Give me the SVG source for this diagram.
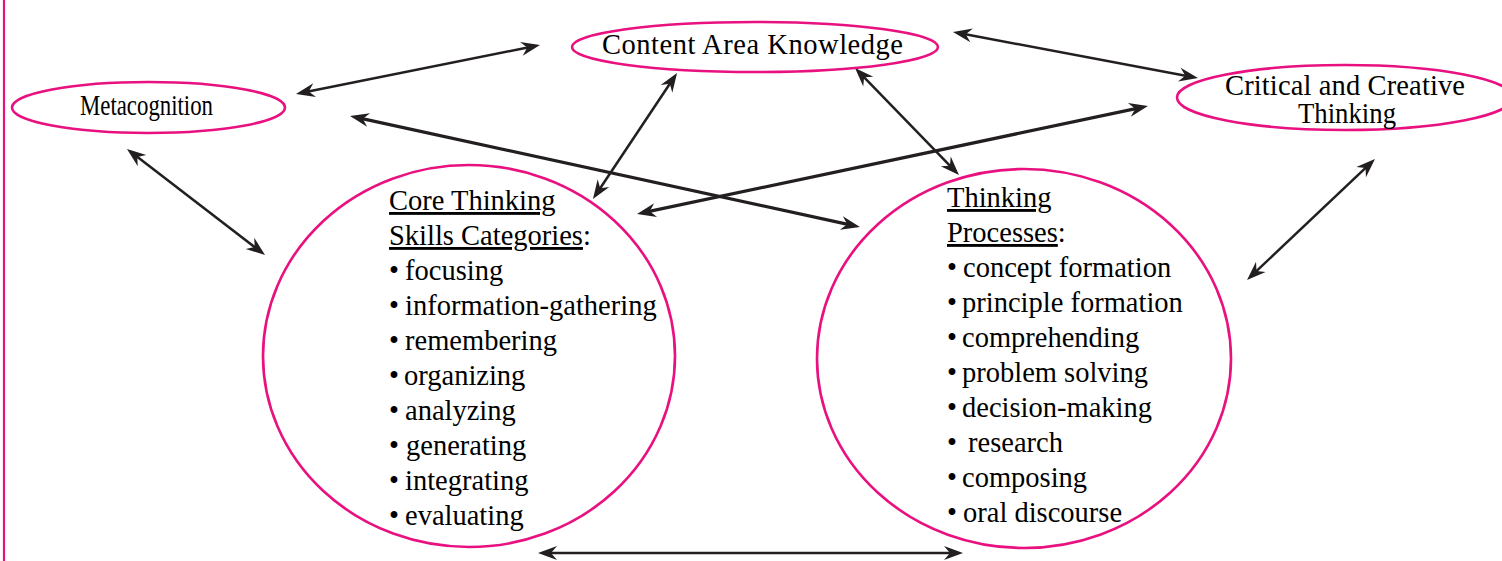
<svg xmlns="http://www.w3.org/2000/svg" width="1502" height="561" viewBox="0 0 1502 561">
<style>
.node{fill:none;stroke:#e8117f;stroke-width:2.6}
.t{font-family:"Liberation Serif","Times New Roman",serif;fill:#000;font-size:28.5px}
.c{stroke:#231f20;stroke-width:2.5;fill:none;marker-start:url(#ah);marker-end:url(#ah)}
.thick{stroke-width:3.2}
.u{text-decoration:underline}
</style>
<defs>
<marker id="ah" markerUnits="userSpaceOnUse" markerWidth="22" markerHeight="16" viewBox="0 -8 20 16" refX="9" refY="0" orient="auto-start-reverse">
<path d="M0,-7 L19,0 L0,7 L6,0 Z" fill="#231f20"/>
</marker>
</defs>
<rect width="1502" height="561" fill="#fff"/>
<line x1="4" y1="0" x2="4" y2="561" stroke="#e8117f" stroke-width="2.2"/>
<g id="connectors">
<line class="c" x1="305.8" y1="92" x2="530.2" y2="47"/>
<line class="c thick" x1="359.8" y1="118.1" x2="850.2" y2="224.9"/>
<line class="c thick" x1="1138.2" y1="108.1" x2="646.8" y2="211.9"/>
<line class="c" x1="962.8" y1="33.8" x2="1188.2" y2="76.2"/>
<line class="c" x1="671.5" y1="81.3" x2="598.5" y2="190.7"/>
<line class="c" x1="862" y1="75.2" x2="952" y2="167.8"/>
<line class="c" x1="134.9" y1="155.1" x2="257.1" y2="248.9"/>
<line class="c" x1="1367.7" y1="165.9" x2="1254.3" y2="273.1"/>
<line class="c" x1="548" y1="553" x2="953" y2="553"/>
</g>
<g id="content-area-knowledge">
<ellipse class="node" cx="755" cy="47" rx="183" ry="25"/>
<text class="t" x="602" y="54" font-size="29" textLength="301" lengthAdjust="spacing">Content Area Knowledge</text>
</g>
<g id="metacognition">
<ellipse class="node" cx="148.5" cy="107.5" rx="136.5" ry="25.5"/>
<text class="t" x="80" y="115" textLength="133" lengthAdjust="spacingAndGlyphs">Metacognition</text>
</g>
<g id="critical-creative-thinking">
<ellipse class="node" cx="1345" cy="97.5" rx="168" ry="32.5"/>
<text class="t" x="1225" y="95" font-size="29" textLength="240" lengthAdjust="spacing">Critical and Creative</text>
<text class="t" x="1298" y="123" font-size="29" textLength="98" lengthAdjust="spacingAndGlyphs">Thinking</text>
</g>
<g id="core-thinking-skills">
<ellipse class="node" cx="469" cy="356" rx="206" ry="191"/>
<text class="t" x="389" y="210"><tspan class="u">Core Thinking</tspan></text>
<text class="t" x="389" y="245"><tspan class="u">Skills Categories</tspan>:</text>
<text class="t" x="389" y="280">•<tspan x="405">focusing</tspan></text>
<text class="t" x="389" y="315">•<tspan x="405">information-gathering</tspan></text>
<text class="t" x="389" y="350">•<tspan x="405">remembering</tspan></text>
<text class="t" x="389" y="385">•<tspan x="404">organizing</tspan></text>
<text class="t" x="389" y="420">•<tspan x="405">analyzing</tspan></text>
<text class="t" x="389" y="455">•<tspan x="406">generating</tspan></text>
<text class="t" x="389" y="490">•<tspan x="405">integrating</tspan></text>
<text class="t" x="389" y="525">•<tspan x="405">evaluating</tspan></text>
</g>
<g id="thinking-processes">
<ellipse class="node" cx="1024" cy="358.5" rx="207" ry="189.5"/>
<text class="t" x="947" y="207"><tspan class="u">Thinking</tspan></text>
<text class="t" x="947" y="242"><tspan class="u">Processes</tspan>:</text>
<text class="t" x="947" y="277">•<tspan x="963">concept formation</tspan></text>
<text class="t" x="947" y="312">•<tspan x="962">principle formation</tspan></text>
<text class="t" x="947" y="347">•<tspan x="962">comprehending</tspan></text>
<text class="t" x="947" y="382">•<tspan x="962">problem solving</tspan></text>
<text class="t" x="947" y="417">•<tspan x="962">decision-making</tspan></text>
<text class="t" x="947" y="452">•<tspan x="968">research</tspan></text>
<text class="t" x="947" y="487">•<tspan x="962">composing</tspan></text>
<text class="t" x="947" y="522">•<tspan x="963">oral discourse</tspan></text>
</g>
</svg>
